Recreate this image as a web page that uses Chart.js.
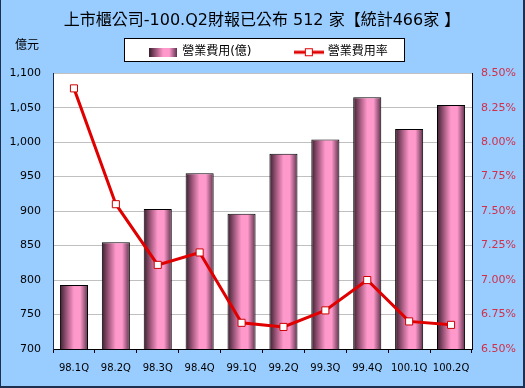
<!DOCTYPE html>
<html>
<head>
<meta charset="utf-8">
<script src="https://cdn.jsdelivr.net/npm/chart.js@4"></script>
<style>
  html, body { margin: 0; padding: 0; background: #99ccff; }
  #wrap { position: relative; width: 525px; height: 388px; box-sizing: border-box; border-left: 1px solid #1f2f4f; border-right: 2px solid #1f2f4f; border-bottom: 2px solid #1f2f4f; }
  canvas { display: block; }
</style>
</head>
<body>
<div id="wrap"><canvas id="c" width="522" height="386"></canvas></div>
<script>
const chartTitle = '上市櫃公司-100.Q2財報已公布 512 家【統計466家 】';
const unitLabel = '億元';
const categories = ['98.1Q', '98.2Q', '98.3Q', '98.4Q', '99.1Q', '99.2Q', '99.3Q', '99.4Q', '100.1Q', '100.2Q'];
const expenseLabel = '營業費用(億)';
const rateLabel = '營業費用率';
const expenses = [793, 855, 903, 955, 896, 983, 1004, 1065, 1019, 1054];
const rates = [8.39, 7.55, 7.11, 7.20, 6.69, 6.66, 6.78, 7.00, 6.70, 6.675];
const leftTicks = [700, 750, 800, 850, 900, 950, 1000, 1050, 1100];
const rightTicks = [6.5, 6.75, 7.0, 7.25, 7.5, 7.75, 8.0, 8.25, 8.5];

const FONT = "'DejaVu Sans', 'Noto Sans CJK TC', sans-serif";
const LINE_RED = '#e00000';

function barGradient(ctx, x0, x1) {
  const g = ctx.createLinearGradient(x0, 0, x1, 0);
  g.addColorStop(0, '#3a1f2e');
  g.addColorStop(0.3, '#b8668f');
  g.addColorStop(0.5, '#ff99cc');
  g.addColorStop(0.72, '#ff99cc');
  g.addColorStop(1, '#5a3049');
  return g;
}

// legend swatches
const swatch = document.createElement('canvas');
swatch.width = 28; swatch.height = 9;
(function () {
  const c = swatch.getContext('2d');
  c.fillStyle = barGradient(c, 0, 28);
  c.fillRect(0, 0, 28, 9);
})();
const lineMark = document.createElement('canvas');
lineMark.width = 30; lineMark.height = 10;
(function () {
  const c = lineMark.getContext('2d');
  c.strokeStyle = LINE_RED; c.lineWidth = 3;
  c.beginPath(); c.moveTo(0, 5); c.lineTo(30, 5); c.stroke();
  c.fillStyle = '#fff'; c.fillRect(11, 1, 8, 8);
  c.strokeStyle = LINE_RED; c.lineWidth = 1; c.strokeRect(11.5, 1.5, 7, 7);
})();

const BAR_FRACTION = 0.67;
const LEGEND_SHIFT = 7;

const deco = {
  id: 'deco',
  beforeDraw(chart) {
    const ctx = chart.ctx;
    // nudge the legend's horizontal span so its centred items sit inside the box
    if (chart.legend) {
      chart.legend.left = LEGEND_SHIFT;
      chart.legend.right = chart.width + LEGEND_SHIFT;
    }
    ctx.save();
    // legend box
    ctx.fillStyle = '#ffffff';
    ctx.fillRect(123, 38, 280, 23);
    ctx.strokeStyle = '#000';
    ctx.lineWidth = 1;
    ctx.strokeRect(123.5, 38.5, 280, 23);
    // plot background
    const a = chart.chartArea;
    ctx.fillStyle = '#ffffff';
    ctx.fillRect(a.left, a.top, a.right - a.left, a.bottom - a.top);
    // unit label
    ctx.fillStyle = '#000';
    ctx.font = '12px ' + FONT;
    ctx.textBaseline = 'middle';
    ctx.fillText(unitLabel, 14, 46);
    ctx.restore();
  }
};

const ctx = document.getElementById('c').getContext('2d');
new Chart(ctx, {
  data: {
    labels: categories,
    datasets: [
      {
        type: 'line',
        label: rateLabel,
        data: rates,
        yAxisID: 'y1',
        borderColor: LINE_RED,
        borderWidth: 3,
        pointStyle: 'rect',
        pointRadius: 5,
        pointBackgroundColor: '#ffffff',
        pointBorderColor: '#cc0000',
        pointBorderWidth: 1,
        tension: 0,
        order: 0
      },
      {
        type: 'bar',
        label: expenseLabel,
        data: expenses,
        yAxisID: 'y',
        backgroundColor: (c) => {
          const chart = c.chart;
          const xs = chart.scales.x;
          if (!xs || c.dataIndex === undefined) return '#ff99cc';
          const cx = xs.getPixelForValue(c.dataIndex);
          const w = (xs.width / categories.length) * BAR_FRACTION;
          return barGradient(chart.ctx, cx - w / 2, cx + w / 2);
        },
        borderColor: '#000000',
        borderWidth: 1,
        barPercentage: BAR_FRACTION,
        categoryPercentage: 1,
        order: 1
      }
    ]
  },
  options: {
    responsive: false,
    animation: false,
    layout: { padding: { left: 0, right: 0, top: 0, bottom: 0 } },
    plugins: {
      title: {
        display: true,
        text: chartTitle,
        color: '#000',
        font: { family: FONT, size: 16, weight: 'normal' },
        padding: { top: 11, bottom: 6 }
      },
      legend: {
        display: true,
        reverse: true,
        labels: {
          color: '#000',
          font: { family: FONT, size: 12 },
          usePointStyle: true,
          pointStyleWidth: 26,
          padding: 10,
          generateLabels: (chart) => {
            return [
              { text: rateLabel, pointStyle: lineMark, datasetIndex: 0, fontColor: '#000', lineWidth: 0, strokeStyle: 'transparent', fillStyle: 'transparent' },
              { text: expenseLabel + '         ', pointStyle: swatch, datasetIndex: 1, fontColor: '#000', lineWidth: 0, strokeStyle: 'transparent', fillStyle: 'transparent' }
            ];
          }
        }
      },
      tooltip: { enabled: false }
    },
    scales: {
      x: {
        offset: true,
        grid: { display: true, drawOnChartArea: false, drawTicks: true, tickLength: 4, color: '#000', offset: true },
        border: { display: true, color: '#000', width: 1 },
        ticks: { color: '#000', font: { family: FONT, size: 10 }, padding: 9, maxRotation: 0, autoSkip: false },
        afterFit: (s) => { s.height = 37; }
      },
      xTopSpacer: {
        type: 'category',
        position: 'top',
        display: true,
        grid: { display: false, drawTicks: false },
        border: { display: false },
        ticks: { display: false },
        afterFit: (s) => { s.height = 5; }
      },
      y: {
        position: 'left',
        min: 700, max: 1100,
        afterBuildTicks: (s) => { s.ticks = leftTicks.map(v => ({ value: v })); },
        grid: { color: '#c0c0c0', drawTicks: false, lineWidth: 1 },
        border: { display: true, color: '#1a2a4a', width: 1 },
        ticks: {
          color: '#000', font: { family: FONT, size: 11 }, padding: 12,
          callback: (v) => v.toLocaleString('en-US')
        },
        afterFit: (s) => { s.width = 52; }
      },
      y1: {
        position: 'right',
        min: 6.5, max: 8.5,
        afterBuildTicks: (s) => { s.ticks = rightTicks.map(v => ({ value: v })); },
        grid: { drawOnChartArea: false, drawTicks: false },
        border: { display: true, color: '#000', width: 1 },
        ticks: {
          color: '#d0304a', font: { family: FONT, size: 11 }, padding: 9,
          callback: (v) => v.toFixed(2) + '%'
        },
        afterFit: (s) => { s.width = 51; }
      }
    }
  },
  plugins: [deco]
});
</script>
</body>
</html>
